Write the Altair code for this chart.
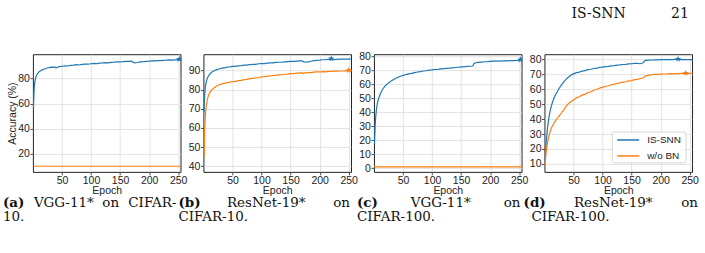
import altair as alt
import pandas as pd

# ---------------------------------------------------------------- data
SERIES = ["IS-SNN", "w/o BN"]
COLORS = ["#1f77b4", "#ff7f0e"]
X_TICKS = [50, 100, 150, 200, 250]

epochs = [1, 2, 3, 4, 5, 6, 7, 8, 9, 10,
          12, 14, 16, 18, 20, 22,
          25, 28, 31, 34, 37, 40, 43, 46,
          50, 55, 60, 65, 70, 75, 80, 85, 90, 95, 100, 105, 110, 115, 120,
          125, 130, 135, 140, 145, 150, 155, 160, 165, 170,
          172,
          175, 180, 185, 190, 195, 200, 205, 210, 215, 220, 225, 230, 235,
          240, 245, 250, 255]
flat_epochs = [1, 2, 5, 50, 100, 150, 200, 255]

# (a) VGG-11* on CIFAR-10
vgg_c10_issnn = [57.0, 70.5, 76.0, 79.2, 81.0, 82.4, 83.3, 84.1, 84.6, 85.2,
                 85.9, 86.5, 87.0, 87.4, 87.7, 88.1,
                 88.5, 88.8, 89.2, 89.0, 89.4, 88.7, 89.3, 89.6,
                 89.9, 90.2, 90.1, 90.6, 90.8, 91.1, 90.9, 91.4, 91.6, 91.5,
                 91.9, 92.1, 91.9, 92.4, 92.5, 92.7, 92.6, 93.0, 93.1, 93.3,
                 93.3, 93.6, 93.7, 93.8, 94.0,
                 93.1,
                 92.6, 92.9, 93.3, 93.5, 93.8, 93.9, 94.1, 94.2, 94.4, 94.4,
                 94.6, 94.7, 94.9, 94.8, 95.0, 95.2, 95.0]
vgg_c10_wobn = [10.3, 10.0, 10.0, 10.0, 10.0, 10.0, 10.0, 10.0]
vgg_c10_best = [("IS-SNN", 252, 95.6)]

# (b) ResNet-19* on CIFAR-10
res_c10_issnn = [68.5, 76.5, 80.5, 82.8, 84.3, 85.4, 86.1, 86.8, 87.3, 87.8,
                 88.5, 89.1, 89.5, 89.9, 90.1, 90.4,
                 90.7, 91.0, 91.2, 91.5, 91.4, 91.8, 91.9, 92.0,
                 92.2, 92.2, 92.5, 92.6, 92.9, 92.9, 93.1, 93.3, 93.3, 93.6,
                 93.7, 93.7, 93.9, 94.1, 94.1, 94.3, 94.4, 94.4, 94.6, 94.7,
                 94.8, 94.8, 95.0, 95.1, 95.1,
                 94.7,
                 94.4, 94.6, 94.9, 95.2, 95.4, 95.5, 95.7, 95.7, 95.9, 96.0,
                 95.8, 95.9, 96.0, 96.0, 96.1, 96.0, 96.1]
res_c10_wobn = [44.5, 57.0, 64.5, 68.8, 71.6, 73.6, 75.2, 76.3, 77.2, 77.9,
                79.0, 79.8, 80.4, 80.9, 81.3, 81.8,
                82.2, 82.7, 82.9, 83.3, 83.4, 83.7, 83.8, 84.1,
                84.2, 84.4, 84.8, 84.9, 85.3, 85.4, 85.8, 85.9, 86.2, 86.4,
                86.7, 86.8, 87.1, 87.2, 87.5, 87.5, 87.8, 87.9, 88.1, 88.2,
                88.4, 88.4, 88.7, 88.7, 88.9,
                88.5,
                88.8, 89.0, 89.0, 89.2, 89.3, 89.3, 89.5, 89.4, 89.6, 89.6,
                89.7, 89.7, 89.8, 89.8, 89.9, 89.9, 90.0]
res_c10_best = [("IS-SNN", 220, 96.3), ("w/o BN", 250, 90.2)]

# (c) VGG-11* on CIFAR-100
vgg_c100_issnn = [17.5, 29.5, 36.5, 41.0, 44.0, 46.5, 48.3, 49.8, 51.0, 52.2,
                  54.2, 55.8, 57.0, 58.2, 59.2, 59.8,
                  60.9, 61.8, 62.8, 63.5, 64.2, 64.9, 65.3, 65.8,
                  66.4, 66.9, 67.5, 67.8, 68.4, 68.8, 69.1, 69.5, 69.7, 70.1,
                  70.3, 70.6, 70.7, 71.0, 71.2, 71.4, 71.5, 71.8, 72.0, 72.2,
                  72.4, 72.5, 72.8, 72.9, 73.1,
                  74.8,
                  75.4, 75.7, 75.9, 76.1, 76.2, 76.4, 76.5, 76.6, 76.6, 76.7,
                  76.8, 76.8, 76.9, 76.9, 77.0, 77.1, 77.0]
vgg_c100_wobn = [1.8, 1.0, 1.0, 1.0, 1.0, 1.0, 1.0, 1.0]
vgg_c100_best = [("IS-SNN", 252, 77.6)]

# (d) ResNet-19* on CIFAR-100
res_c100_issnn = [11.0, 18.0, 24.0, 28.8, 32.8, 36.3, 39.3, 41.8, 44.0, 46.0,
                  49.0, 51.6, 53.7, 55.5, 57.0, 58.4,
                  60.4, 62.3, 63.9, 65.4, 66.7, 67.8, 68.8, 69.6,
                  70.4, 71.2, 71.6, 72.3, 72.6, 73.2, 73.5, 74.0, 74.2, 74.7,
                  74.9, 75.3, 75.4, 75.8, 75.9, 76.3, 76.4, 76.7, 76.8, 77.1,
                  77.2, 77.4, 77.5, 77.2, 77.8,
                  79.1,
                  79.5, 79.6, 79.7, 79.8, 79.8, 79.9, 79.9, 80.0, 79.9, 80.0,
                  80.1, 80.2, 80.0, 80.0, 80.0, 80.0, 79.9]
res_c100_wobn = [9.0, 14.0, 18.0, 21.0, 23.5, 25.6, 27.4, 29.0, 30.5, 31.8,
                 34.0, 35.6, 37.1, 38.4, 39.5, 40.6,
                 42.1, 43.6, 45.3, 46.6, 48.4, 49.9, 51.0, 51.8,
                 52.9, 54.3, 55.0, 56.1, 56.8, 57.9, 58.4, 59.4, 59.9, 60.9,
                 61.3, 62.1, 62.4, 63.1, 63.4, 64.1, 64.3, 64.9, 65.1, 65.7,
                 65.9, 66.5, 66.7, 67.3, 67.6,
                 68.4,
                 69.1, 69.5, 69.8, 70.0, 70.0, 70.2, 70.3, 70.3, 70.5, 70.4,
                 70.6, 70.6, 70.7, 70.8, 70.7, 70.7, 70.8]
res_c100_best = [("IS-SNN", 230, 80.4), ("w/o BN", 243, 71.0)]

# ---------------------------------------------------------------- layout
PANEL_W, PANEL_H, GAP = 148, 118, 23
LEFT, TOP = 32, 53                    # top-left corner of the first plot area
B_X = LEFT + (PANEL_W + GAP)          # plot origin of panel (b), hosts page text
D_X = LEFT + 3 * (PANEL_W + GAP)      # plot origin of panel (d), hosts legend
SERIF = "DejaVu Serif"
SANS = "Liberation Sans"
INK = "#222222"
STAR = ("M0,-1L0.235,-0.324L0.951,-0.309L0.38,0.124L0.588,0.809L0,0.4"
        "L-0.588,0.809L-0.38,0.124L-0.951,-0.309L-0.235,-0.324Z")

one_row = pd.DataFrame({"k": [0]})


def text_at(txt, x, y, size=13.5, weight="normal", align="left", font=SERIF,
            ox=B_X, oy=TOP, color="#111111"):
    """A piece of text placed in page pixels (converted to panel-relative)."""
    return alt.Chart(pd.DataFrame({"t": [txt]})).mark_text(
        align=align, baseline="alphabetic", font=font, fontSize=size,
        fontWeight=weight, color=color,
    ).encode(x=alt.value(x - ox), y=alt.value(y - oy), text="t:N")


def panel(curves, best, y_domain, y_ticks, y_title=None, over=()):
    df = pd.concat(
        [pd.DataFrame({"series": s, "epoch": e, "acc": v}) for s, e, v in curves],
        ignore_index=True,
    )
    bdf = pd.DataFrame(best, columns=["series", "epoch", "acc"])
    x = alt.X("epoch:Q",
              scale=alt.Scale(domain=[0, 254], nice=False, zero=False),
              axis=alt.Axis(values=X_TICKS, title="Epoch", grid=True))
    y = alt.Y("acc:Q",
              scale=alt.Scale(domain=y_domain, nice=False, zero=False),
              axis=alt.Axis(values=y_ticks, title=y_title, grid=True))
    color = alt.Color("series:N", scale=alt.Scale(domain=SERIES, range=COLORS),
                      legend=None)
    lines = alt.Chart(df).mark_line(strokeWidth=1.2).encode(
        x=x, y=y, color=color, detail="series:N", order="epoch:Q")
    stars = alt.Chart(bdf).mark_point(
        shape=STAR, filled=True, size=45, opacity=1).encode(x=x, y=y, color=color)
    return alt.layer(lines, stars, *over).properties(
        width=PANEL_W, height=PANEL_H)


# page frame (keeps the canvas at the full page size) + running header + captions
L1, L2 = 206, 220
page = [
    alt.Chart(one_row).mark_rect(fillOpacity=0, strokeOpacity=0).encode(
        x=alt.value(-B_X), x2=alt.value(705 - B_X),
        y=alt.value(-TOP), y2=alt.value(253 - TOP)),
    text_at("IS-SNN", 572, 17, size=14),
    text_at("21", 672, 17, size=14),
    # (a)
    text_at("(a)", 2, L1, weight="bold"),
    text_at("VGG-11*", 63, L1, align="center"),
    text_at("on", 110, L1, align="center"),
    text_at("CIFAR-", 176, L1, align="right"),
    text_at("10.", 2, L2),
    # (b)
    text_at("(b)", 178, L1, weight="bold"),
    text_at("ResNet-19*", 266, L1, align="center"),
    text_at("on", 350, L1, align="right"),
    text_at("CIFAR-10.", 178, L2),
    # (c)
    text_at("(c)", 357, L1, weight="bold"),
    text_at("VGG-11*", 441, L1, align="center"),
    text_at("on", 521, L1, align="right"),
    text_at("CIFAR-100.", 357, L2),
    # (d)
    text_at("(d)", 524, L1, weight="bold"),
    text_at("ResNet-19*", 614, L1, align="center"),
    text_at("on", 699, L1, align="right"),
    text_at("CIFAR-100.", 532, L2),
]

# legend drawn inside panel (d), lower right corner
legend = [
    alt.Chart(one_row).mark_rect(
        fill="white", fillOpacity=0.85, stroke="#cccccc", strokeWidth=0.8,
        cornerRadius=2).encode(
        x=alt.value(613 - D_X), x2=alt.value(687 - D_X),
        y=alt.value(131 - TOP), y2=alt.value(162 - TOP)),
]
for i, (name, col) in enumerate(zip(SERIES, COLORS)):
    yy = 139 + 16 * i - TOP
    legend.append(
        alt.Chart(one_row).mark_rule(color=col, strokeWidth=1.5).encode(
            x=alt.value(618 - D_X), x2=alt.value(640 - D_X), y=alt.value(yy)))
    legend.append(
        alt.Chart(pd.DataFrame({"t": [name]})).mark_text(
            align="left", baseline="middle", font=SANS, fontSize=10,
            color=INK).encode(
            x=alt.value(648 - D_X), y=alt.value(yy), text="t:N"))

pa = panel([("IS-SNN", epochs, vgg_c10_issnn), ("w/o BN", flat_epochs, vgg_c10_wobn)],
           vgg_c10_best, [5.5, 99.5], [20, 40, 60, 80], y_title="Accuracy (%)")
pb = panel([("IS-SNN", epochs, res_c10_issnn), ("w/o BN", epochs, res_c10_wobn)],
           res_c10_best, [37, 98.6], [40, 50, 60, 70, 80, 90], over=page)
pc = panel([("IS-SNN", epochs, vgg_c100_issnn), ("w/o BN", flat_epochs, vgg_c100_wobn)],
           vgg_c100_best, [-2.5, 81.5], [0, 10, 20, 30, 40, 50, 60, 70, 80])
pd_ = panel([("IS-SNN", epochs, res_c100_issnn), ("w/o BN", epochs, res_c100_wobn)],
            res_c100_best, [4.6, 83.6], [10, 20, 30, 40, 50, 60, 70, 80],
            over=legend)

chart = alt.hconcat(pa, pb, pc, pd_, spacing=GAP, bounds="flush").properties(
    padding=0, background="white",
).configure_view(
    stroke=INK, strokeWidth=1,
).configure_axis(
    labelFont=SANS, labelFontSize=10.5, labelColor=INK, labelPadding=0.5,
    labelFlush=False, labelOverlap=False,
    tickColor=INK, tickSize=3, tickWidth=0.8, domain=False,
    grid=True, gridColor="#dcdcdc", gridWidth=0.8,
    titleFont=SANS, titleFontSize=10.5, titleFontWeight="normal",
    titleColor=INK, titlePadding=0,
)

chart.save("out.html", embed_options={"renderer": "svg", "actions": False})
